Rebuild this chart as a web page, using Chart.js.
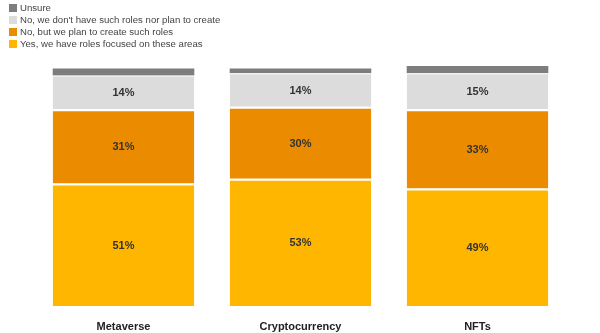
<!DOCTYPE html>
<html>
<head>
<meta charset="utf-8">
<script src="https://cdn.jsdelivr.net/npm/chart.js@4/dist/chart.umd.min.js"></script>
<style>
  body { margin: 0; background: #fff; }
  #wrap { position: relative; width: 600px; height: 333px; }
  #legend { position: absolute; left: 9px; top: 2px; font: 9.6px "Liberation Sans", Arial, sans-serif; color: #444; }
  #legend div { height: 12px; line-height: 12px; white-space: nowrap; }
  #legend span { display: inline-block; width: 8px; height: 8px; margin-right: 3px; vertical-align: -1px; }
</style>
</head>
<body>
<div id="wrap">
  <canvas id="chart" width="600" height="333"></canvas>
  <div id="legend"></div>
</div>
<script>
const categories = ['Metaverse', 'Cryptocurrency', 'NFTs'];
const yesRoles = [51, 53, 49];
const planRoles = [31, 30, 33];
const noRoles = [14, 14, 15];
const unsure = [3, 2, 3];

const gap = { top: 2, left: 0, right: 0, bottom: 0 };

const datasets = [
    { label: 'Yes, we have roles focused on these areas', data: yesRoles, backgroundColor: '#ffb600', borderColor: '#fff', borderWidth: gap, showValue: true },
    { label: 'No, but we plan to create such roles', data: planRoles, backgroundColor: '#eb8c00', borderColor: '#fff', borderWidth: gap, showValue: true },
    { label: "No, we don't have such roles nor plan to create", data: noRoles, backgroundColor: '#dcdcdc', borderColor: '#fff', borderWidth: { top: 1, left: 0, right: 0, bottom: 0 }, showValue: true },
    { label: 'Unsure', data: unsure, backgroundColor: '#7d7d7d', borderWidth: 0, showValue: false },
];

// values inside the bars
const valueLabels = {
    id: 'valueLabels',
    afterDatasetsDraw(chart) {
        const ctx = chart.ctx;
        ctx.save();
        ctx.font = 'bold 11px "Liberation Sans", Arial, sans-serif';
        ctx.fillStyle = '#333';
        ctx.textAlign = 'center';
        ctx.textBaseline = 'middle';
        chart.data.datasets.forEach((ds, i) => {
            if (!ds.showValue) return;
            chart.getDatasetMeta(i).data.forEach((bar, j) => {
                const p = bar.getProps(['x', 'y', 'base'], true);
                ctx.fillText(ds.data[j] + '%', p.x, (p.y + p.base) / 2 + 1);
            });
        });
        ctx.restore();
    }
};

const chart = new Chart(document.getElementById('chart'), {
    type: 'bar',
    data: { labels: categories, datasets: datasets },
    options: {
        responsive: false,
        animation: false,
        layout: { padding: { left: 35, right: 34, top: 66, bottom: 0 } },
        datasets: { bar: { barPercentage: 0.8, categoryPercentage: 1 } },
        plugins: { legend: { display: false }, tooltip: { enabled: false } },
        scales: {
            x: {
                stacked: true,
                grid: { display: false, drawTicks: false },
                border: { display: false },
                afterFit: (scale) => { scale.height = 27; },
                ticks: { padding: 14, color: '#222', font: { family: '"Liberation Sans", Arial, sans-serif', size: 11, weight: 'bold' } }
            },
            y: { stacked: true, display: false, min: 0, max: 100 }
        }
    },
    plugins: [valueLabels]
});

const legend = document.getElementById('legend');
datasets.slice().reverse().forEach(ds => {
    const row = document.createElement('div');
    const box = document.createElement('span');
    box.style.background = ds.backgroundColor;
    row.appendChild(box);
    row.appendChild(document.createTextNode(ds.label));
    legend.appendChild(row);
});
</script>
</body>
</html>
